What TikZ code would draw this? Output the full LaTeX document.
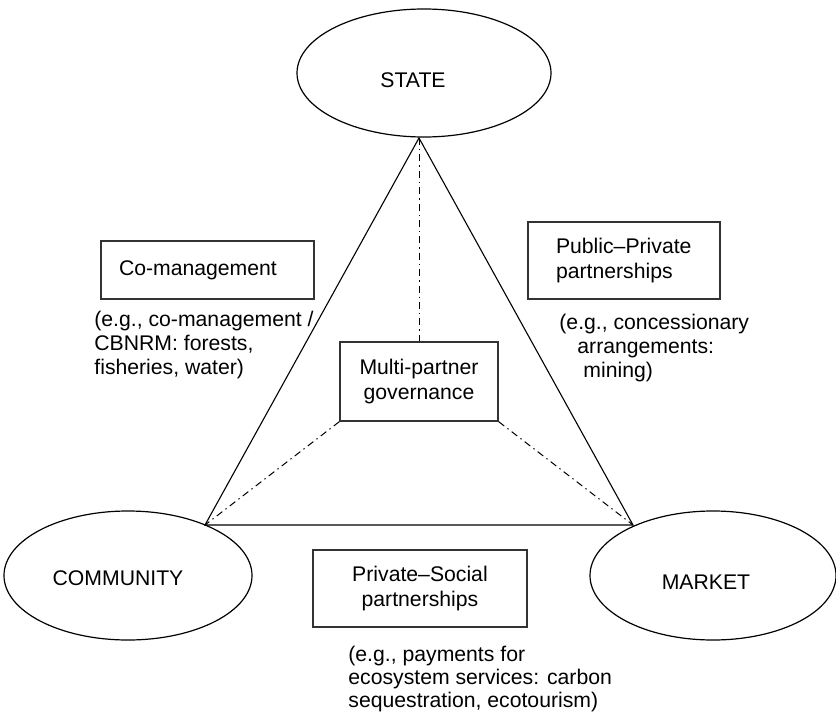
\documentclass[tikz,border=0pt]{standalone}
\usepackage{fontspec}
\setmainfont{Liberation Sans}
\usetikzlibrary{shapes.geometric}
\begin{document}
\begin{tikzpicture}[x=0.5pt,y=-0.5pt,
  ell/.style={draw, ellipse, inner sep=0pt, line width=0.6pt},
  box/.style={draw=black!80, line width=0.7pt, inner sep=0pt, align=center, font=\fontsize{10.6pt}{12.5pt}\selectfont},
  lbl/.style={inner sep=0pt, font=\fontsize{10.6pt}{12.5pt}\selectfont},
  note/.style={inner sep=0pt, align=left, anchor=base west, font=\fontsize{10.6pt}{12pt}\selectfont},
  ddot/.style={line width=0.5pt, dash pattern=on 3.5pt off 2pt on 0.7pt off 2pt},
  side/.style={line width=0.55pt}]
\useasboundingbox (0,0) rectangle (836,728);
% ellipses
\node[ell, minimum width=127pt, minimum height=64pt] (state) at (424,73) {};
\node[ell, minimum width=124pt, minimum height=64.5pt] (community) at (128,575.5) {};
\node[ell, minimum width=123pt, minimum height=64.5pt] (market) at (713,575.5) {};
\node[lbl] (statetxt) at (413,80) {STATE};
\node[lbl] (communitytxt) at (118,578) {COMMUNITY};
\node[lbl] (markettxt) at (706,582) {MARKET};
% triangle vertices
\coordinate (apex) at (419,138);
\coordinate (left) at (205,525);
\coordinate (right) at (633,525);
\draw[side] (apex) -- (left) -- (right) -- cycle;
% boxes
\node[box, align=left, inner xsep=9pt, text width=88.5pt, minimum height=29pt] (co) at (207.5,270) {Co-management};
\node[box, align=left, inner xsep=14pt, text width=68pt, minimum height=38.5pt] (pub) at (624,260.5) {Public--Private\\partnerships};
\node[box, minimum width=79pt, minimum height=39.5pt] (multi) at (419,381.5) {Multi-partner\\governance};
\node[box, minimum width=107pt, minimum height=38.5pt] (priv) at (420,588.5) {Private--Social\\partnerships};
% dash-dot connectors
\draw[ddot] (apex) -- (multi.north);
\draw[ddot] (multi.south west) -- (left);
\draw[ddot] (multi.south east) -- (right);
% annotations (anchor on baseline of last line)
\node[note] (conote) at (94,374) {(e.g., co-management /\\CBNRM: forests,\\fisheries, water)};
\node[note] (pubnote) at (559,377) {(e.g., concessionary\\\hspace*{9pt}arrangements:\\\hspace*{12pt}mining)};
\node[note, font=\fontsize{10.6pt}{11.5pt}\selectfont] (privnote) at (348,707) {(e.g., payments for\\ecosystem services: carbon\\sequestration, ecotourism)};
\end{tikzpicture}
\end{document}
